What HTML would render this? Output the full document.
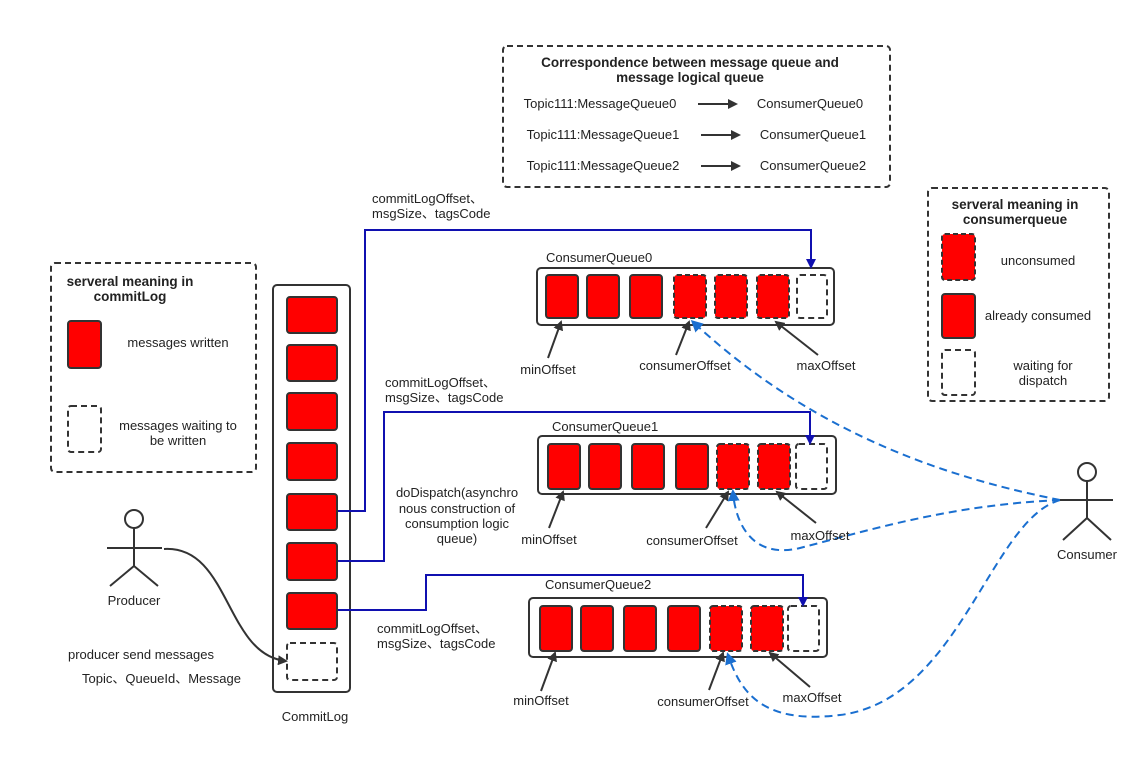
<!DOCTYPE html>
<html><head><meta charset="utf-8"><style>body{margin:0;background:#fff}svg{display:block}text{font-family:"Liberation Sans","Noto Sans CJK SC",sans-serif;font-size:13px;fill:#222}.b{font-weight:bold;font-size:13.5px}</style></head><body>
<svg width="1141" height="765" viewBox="0 0 1141 765" xmlns="http://www.w3.org/2000/svg">
<defs>
<marker id="ak" markerWidth="10" markerHeight="10" refX="8" refY="5" orient="auto" markerUnits="userSpaceOnUse"><path d="M0,0 L10,5 L0,10 Z" fill="#333"/></marker>
<marker id="ab" markerWidth="10" markerHeight="10" refX="8" refY="5" orient="auto" markerUnits="userSpaceOnUse"><path d="M0,0 L10,5 L0,10 Z" fill="#1010b0"/></marker>
<marker id="al" markerWidth="12" markerHeight="12" refX="9" refY="6" orient="auto" markerUnits="userSpaceOnUse"><path d="M0,0 L12,6 L0,12 Z" fill="#1a6fd0"/></marker>
</defs>
<g fill="none" stroke="#333" stroke-width="2">
<rect x="51" y="263" width="205" height="209" rx="4" stroke-dasharray="6 4"/>
<rect x="503" y="46" width="387" height="141" rx="4" stroke-dasharray="6 4"/>
<rect x="928" y="188" width="181" height="213" rx="4" stroke-dasharray="6 4"/>
<rect x="273" y="285" width="77" height="407" rx="4"/>
<rect x="537" y="268" width="297" height="57" rx="4"/>
<rect x="538" y="436" width="298" height="58" rx="4"/>
<rect x="529" y="598" width="298" height="59" rx="4"/>
</g>
<g stroke="#333" stroke-width="2" fill="#f00">
<rect x="68" y="321" width="33" height="47" rx="3"/>
<rect x="942" y="294" width="33" height="44" rx="3"/>
<rect x="942" y="234" width="33" height="46" rx="3" stroke-dasharray="5 3"/>
<rect x="287" y="297" width="50" height="36" rx="3"/>
<rect x="287" y="345" width="50" height="36" rx="3"/>
<rect x="287" y="393" width="50" height="37" rx="3"/>
<rect x="287" y="443" width="50" height="37" rx="3"/>
<rect x="287" y="494" width="50" height="36" rx="3"/>
<rect x="287" y="543" width="50" height="37" rx="3"/>
<rect x="287" y="593" width="50" height="36" rx="3"/>
<rect x="546" y="275" width="32" height="43" rx="3"/><rect x="587" y="275" width="32" height="43" rx="3"/><rect x="630" y="275" width="32" height="43" rx="3"/>
<rect x="674" y="275" width="32" height="43" rx="3" stroke-dasharray="5 3"/><rect x="715" y="275" width="32" height="43" rx="3" stroke-dasharray="5 3"/><rect x="757" y="275" width="32" height="43" rx="3" stroke-dasharray="5 3"/>
<rect x="548" y="444" width="32" height="45" rx="3"/><rect x="589" y="444" width="32" height="45" rx="3"/><rect x="632" y="444" width="32" height="45" rx="3"/><rect x="676" y="444" width="32" height="45" rx="3"/>
<rect x="717" y="444" width="32" height="45" rx="3" stroke-dasharray="5 3"/><rect x="758" y="444" width="32" height="45" rx="3" stroke-dasharray="5 3"/>
<rect x="540" y="606" width="32" height="45" rx="3"/><rect x="581" y="606" width="32" height="45" rx="3"/><rect x="624" y="606" width="32" height="45" rx="3"/><rect x="668" y="606" width="32" height="45" rx="3"/>
<rect x="710" y="606" width="32" height="45" rx="3" stroke-dasharray="5 3"/><rect x="751" y="606" width="32" height="45" rx="3" stroke-dasharray="5 3"/>
</g>
<g stroke="#333" stroke-width="2" fill="#fff" stroke-dasharray="6 4">
<rect x="68" y="406" width="33" height="46" rx="3"/>
<rect x="942" y="350" width="33" height="45" rx="3"/>
<rect x="287" y="643" width="50" height="37" rx="3"/>
<rect x="797" y="275" width="30" height="43" rx="3"/>
<rect x="796" y="444" width="31" height="45" rx="3"/>
<rect x="788" y="606" width="31" height="45" rx="3"/>
</g>
<g stroke="#333" stroke-width="2" fill="none" marker-end="url(#ak)">
<line x1="698" y1="104" x2="736" y2="104"/><line x1="701" y1="135" x2="739" y2="135"/><line x1="701" y1="166" x2="739" y2="166"/>
<line x1="548" y1="358" x2="561" y2="322"/><line x1="676" y1="355" x2="689" y2="322"/><line x1="818" y1="355" x2="776" y2="322"/>
<line x1="549" y1="528" x2="563" y2="492"/><line x1="706" y1="528" x2="728" y2="492"/><line x1="816" y1="523" x2="777" y2="492"/>
<line x1="541" y1="691" x2="555" y2="653"/><line x1="709" y1="690" x2="723" y2="653"/><line x1="810" y1="687" x2="770" y2="653"/>
<path d="M164,549 C230,545 225,655 286,661"/>
</g>
<g stroke="#1010b0" stroke-width="2" fill="none" marker-end="url(#ab)">
<path d="M338,511 H365 V230 H811 V267"/>
<path d="M338,561 H384 V412 H810 V443"/>
<path d="M338,610 H426 V575 H803 V605"/>
</g>
<g stroke="#1a6fd0" stroke-width="2" fill="none" stroke-dasharray="8 5" marker-end="url(#al)">
<path d="M1060,500 C960,480 820,440 693,322"/>
<path d="M1060,500 C950,505 870,530 800,548 C750,560 735,520 733,492"/>
<path d="M1060,500 C990,520 960,700 840,715 C760,725 740,690 728,655"/>
</g>
<g stroke="#333" stroke-width="2" fill="none">
<circle cx="134" cy="519" r="9" fill="#fff"/><path d="M134,528 V566 M107,548 H162 M134,566 L110,586 M134,566 L158,586"/>
<circle cx="1087" cy="472" r="9" fill="#fff"/><path d="M1087,481 V518 M1060,500 H1113 M1087,518 L1063,540 M1087,518 L1111,540"/>
</g>
<text x="130" y="286" class="b" text-anchor="middle">serveral meaning in</text>
<text x="130" y="301" class="b" text-anchor="middle">commitLog</text>
<text x="178" y="347" text-anchor="middle">messages written</text>
<text x="178" y="430" text-anchor="middle">messages waiting to</text>
<text x="178" y="445" text-anchor="middle">be written</text>
<text x="690" y="67" class="b" text-anchor="middle">Correspondence between message queue and</text>
<text x="690" y="82" class="b" text-anchor="middle">message logical queue</text>
<text x="600" y="108" text-anchor="middle">Topic111:MessageQueue0</text>
<text x="603" y="139" text-anchor="middle">Topic111:MessageQueue1</text>
<text x="603" y="170" text-anchor="middle">Topic111:MessageQueue2</text>
<text x="810" y="108" text-anchor="middle">ConsumerQueue0</text>
<text x="813" y="139" text-anchor="middle">ConsumerQueue1</text>
<text x="813" y="170" text-anchor="middle">ConsumerQueue2</text>
<text x="1015" y="209" class="b" text-anchor="middle">serveral meaning in</text>
<text x="1015" y="224" class="b" text-anchor="middle">consumerqueue</text>
<text x="1038" y="265" text-anchor="middle">unconsumed</text>
<text x="1038" y="320" text-anchor="middle">already consumed</text>
<text x="1043" y="370" text-anchor="middle">waiting for</text>
<text x="1043" y="385" text-anchor="middle">dispatch</text>
<text x="372" y="203">commitLogOffset、</text>
<text x="372" y="218">msgSize、tagsCode</text>
<text x="385" y="387">commitLogOffset、</text>
<text x="385" y="402">msgSize、tagsCode</text>
<text x="377" y="633">commitLogOffset、</text>
<text x="377" y="648">msgSize、tagsCode</text>
<text x="457" y="497" text-anchor="middle">doDispatch(asynchro</text>
<text x="457" y="513" text-anchor="middle">nous construction of</text>
<text x="457" y="528" text-anchor="middle">consumption logic</text>
<text x="457" y="543" text-anchor="middle">queue)</text>
<text x="546" y="262">ConsumerQueue0</text>
<text x="552" y="431">ConsumerQueue1</text>
<text x="545" y="589">ConsumerQueue2</text>
<text x="548" y="374" text-anchor="middle">minOffset</text>
<text x="685" y="370" text-anchor="middle">consumerOffset</text>
<text x="826" y="370" text-anchor="middle">maxOffset</text>
<text x="549" y="544" text-anchor="middle">minOffset</text>
<text x="692" y="545" text-anchor="middle">consumerOffset</text>
<text x="820" y="540" text-anchor="middle">maxOffset</text>
<text x="541" y="705" text-anchor="middle">minOffset</text>
<text x="703" y="706" text-anchor="middle">consumerOffset</text>
<text x="812" y="702" text-anchor="middle">maxOffset</text>
<text x="134" y="605" text-anchor="middle">Producer</text>
<text x="1087" y="559" text-anchor="middle">Consumer</text>
<text x="315" y="721" text-anchor="middle">CommitLog</text>
<text x="68" y="659">producer send messages</text>
<text x="82" y="683">Topic、QueueId、Message</text>
</svg>
</body></html>
